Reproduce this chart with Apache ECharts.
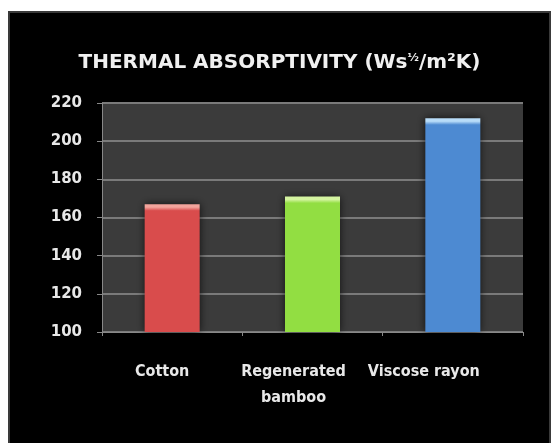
<!DOCTYPE html>
<html><head><meta charset="utf-8">
<script src="https://cdn.jsdelivr.net/npm/echarts@6/dist/echarts.min.js"></script>
<style>html,body{margin:0;padding:0;background:#fff;}#c{width:559px;height:443px;}</style>
</head><body><div id="c"></div>
<script>
const categories = ['Cotton', 'Regenerated\nbamboo', 'Viscose rayon'];
const values = [167, 171, 212];
const barColors = ['#d94c4c', '#92de42', '#4d8ad2'];
const topColors = ['#f2a49c', '#d4f4a0', '#b8dcf8'];
const yMin = 100, yMax = 220, yStep = 20;

const chart = echarts.init(document.getElementById('c'), null, {renderer: 'canvas'});
const pxPerUnit = 229 / (yMax - yMin);
const labelShiftRight = [20, 38, 58];
chart.setOption({
  backgroundColor: '#fff',
  animation: false,
  graphic: [{
    type: 'rect', left: 8, top: 11, z: -10,
    shape: {width: 541, height: 440},
    style: {fill: '#000', stroke: '#3a3a3a', lineWidth: 2}
  }],
  title: {
    text: 'THERMAL ABSORPTIVITY (Ws{s|½}/m²K)',
    left: 'center', top: 48,
    textStyle: {
      color: '#f0f0f0', fontSize: 20, fontWeight: 'bold', fontFamily: 'DejaVu Sans',
      rich: {s: {fontSize: 11, fontWeight: 'bold', fontFamily: 'DejaVu Sans', color: '#f0f0f0', verticalAlign: 'top', padding: [0,0,8,0]}}
    }
  },
  grid: {left: 102, right: 36, top: 103, bottom: 111, show: true, backgroundColor: '#3b3b3b', borderWidth: 0},
  xAxis: {
    type: 'category',
    data: categories.map((c, i) => ({value: c, textStyle: {padding: [0, labelShiftRight[i], 0, 0]}})),
    axisLine: {lineStyle: {color: '#888', width: 1}},
    axisTick: {show: true, length: 4, lineStyle: {color: '#888'}},
    axisLabel: {interval: 0, hideOverlap: false, color: '#e8e8e8', fontSize: 16, fontWeight: 'bold', fontFamily: 'DejaVu Sans Condensed', margin: 27, lineHeight: 26}
  },
  yAxis: {
    type: 'value', min: yMin, max: yMax, interval: yStep,
    axisLine: {show: true, lineStyle: {color: '#888'}},
    axisTick: {show: true, length: 5, lineStyle: {color: '#888'}},
    splitLine: {lineStyle: {color: '#7a7a7a', width: 2}},
    axisLabel: {color: '#e8e8e8', fontSize: 15, fontWeight: 'bold', fontFamily: 'DejaVu Sans', margin: 20}
  },
  series: [{
    type: 'bar', barWidth: 55,
    data: values.map((v, i) => {
      const h = (v - yMin) * pxPerUnit;
      const o = 3 / h;
      return {
        value: v,
        itemStyle: {
          color: {type: 'linear', x: 0, y: 0, x2: 0, y2: 1, colorStops: [
            {offset: 0, color: topColors[i]},
            {offset: o, color: topColors[i]},
            {offset: o * 2.2, color: barColors[i]},
            {offset: 1, color: barColors[i]}
          ]},
          shadowColor: 'rgba(0,0,0,0.7)', shadowBlur: 8
        }
      };
    })
  }]
});
</script></body></html>
